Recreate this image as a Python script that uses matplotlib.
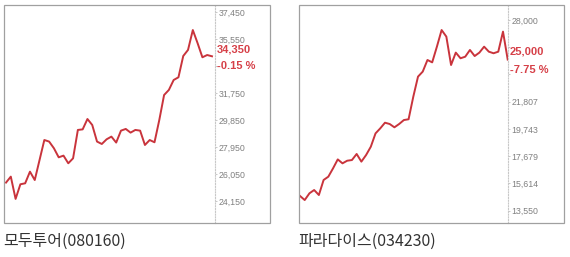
import matplotlib
matplotlib.use("Agg")
import matplotlib.pyplot as plt
from matplotlib.patches import Rectangle

# ---- data ----
left_name = "모두투어(080160)"
left_values = [25450, 25870, 24300, 25330, 25400, 26220, 25630, 27040, 28450, 28340,
               27870, 27230, 27350, 26810, 27160, 29160, 29200, 29930, 29510, 28340,
               28170, 28500, 28690, 28270, 29110, 29230, 28970, 29160, 29110, 28100,
               28450, 28290, 29860, 31620, 31980, 32680, 32870, 34370, 34800, 36200,
               35270, 34280, 34440, 34350]
left_ticks = [24150, 26050, 27950, 29850, 31750, 33650, 35550, 37450]
left_hidden = [33650]          # tick labels covered by the price box
left_price = "34,350"
left_change = "-0.15 %"

right_name = "파라다이스(034230)"
right_values = [14670, 14360, 14870, 15120, 14740, 15880, 16130, 16760, 17440, 17140,
                17340, 17390, 17850, 17270, 17770, 18400, 19410, 19790, 20220, 20120,
                19870, 20120, 20420, 20480, 22190, 23710, 24090, 24970, 24790, 25980,
                27240, 26740, 24590, 25530, 25100, 25220, 25730, 25270, 25530, 25980,
                25600, 25480, 25600, 27120, 25000]
right_ticks = [13550, 15614, 17679, 19743, 21807, 23871, 25936, 28000]
right_hidden = [23871, 25936]
right_price = "25,000"
right_change = "-7.75 %"

W, H = 570, 257
fig = plt.figure(figsize=(W / 100, H / 100), dpi=100)
fig.patch.set_facecolor("white")

RED = "#c9343c"
LBL = "#d64048"

def fx(px):
    return px / W

def fy(py):
    return 1 - py / H

def panel(box_l, box_r, line_r, values, ticks, hidden, ylim, xlim, price, change, name,
          price_y, chg_y):
    top, bot = 5, 223
    fig.patches.append(Rectangle((fx(box_l), fy(bot)), fx(box_r) - fx(box_l), fy(top) - fy(bot),
                                 transform=fig.transFigure, fill=False, edgecolor="#a0a0a0",
                                 linewidth=0.9, zorder=0))
    ax = fig.add_axes([fx(box_l), fy(bot), fx(line_r) - fx(box_l), fy(top) - fy(bot)])
    ax.patch.set_alpha(0)
    ax.plot(range(len(values)), values, color=RED, linewidth=1.4, solid_joinstyle="round")
    ax.set_xlim(*xlim)
    ax.set_ylim(*ylim)
    for s in ["top", "left", "bottom"]:
        ax.spines[s].set_visible(False)
    ax.spines["right"].set_linestyle((0, (1, 1.5)))
    ax.spines["right"].set_color("#c8c8c8")
    ax.spines["right"].set_linewidth(0.8)
    ax.set_xticks([])
    ax.yaxis.tick_right()
    ax.set_yticks(ticks)
    ax.set_yticklabels(["" if t in hidden else f"{t:,}" for t in ticks])
    ax.tick_params(axis="y", length=1.5, width=0.6, color="#c0c0c0", pad=1,
                   labelsize=6.3, labelcolor="#808080")
    for lab in ax.get_yticklabels():
        lab.set_fontfamily("Liberation Sans")
    for txt, yy in ((price, price_y), (change, chg_y)):
        fig.text(fx(line_r + 2), fy(yy), txt, color=LBL, fontsize=8,
                 fontfamily="Liberation Sans", fontweight="bold", va="center", ha="left",
                 zorder=5)
    fig.text(fx(box_l - 1), fy(241), name, color="#333333", fontsize=11.5,
             fontfamily=["Noto Sans CJK KR", "DejaVu Sans"], va="center", ha="left")

panel(4, 270, 215, left_values, left_ticks, left_hidden, (22602, 37964), (-0.42, 43.63),
      left_price, left_change, left_name, 49, 66)
panel(299, 564, 508, right_values, right_ticks, right_hidden, (12621, 29136), (-0.21, 44.06),
      right_price, right_change, right_name, 51, 70)

fig.savefig("out.png", dpi=100, facecolor="white")
